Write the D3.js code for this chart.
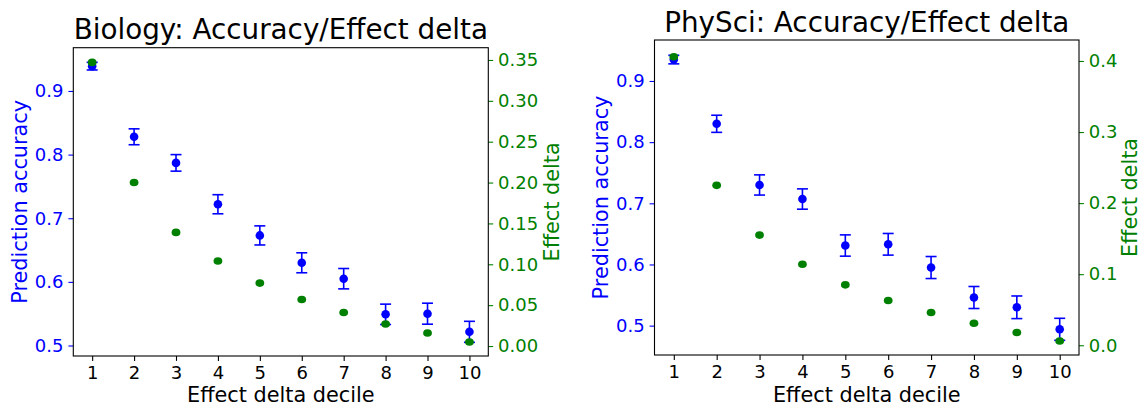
<!DOCTYPE html>
<html>
<head>
<meta charset="utf-8">
<script src="https://cdn.jsdelivr.net/npm/d3@7"></script>
<style>
  body { margin: 0; background: #fff; }
  svg { display: block; font-family: "DejaVu Sans", sans-serif; }
</style>
</head>
<body>
<div id="chart"></div>
<script>
// deciles on the x axis
var deciles = [1, 2, 3, 4, 5, 6, 7, 8, 9, 10];

// Biology panel
var bioAcc = [0.939, 0.828, 0.787, 0.722, 0.673, 0.630, 0.605, 0.549, 0.550, 0.5215];
var bioErr = [0.006, 0.0125, 0.013, 0.015, 0.015, 0.0157, 0.016, 0.016, 0.0165, 0.0165];
var bioEff = [0.347, 0.200, 0.139, 0.104, 0.077, 0.057, 0.041, 0.027, 0.016, 0.005];

// PhySci panel
var phyAcc = [0.935, 0.830, 0.730, 0.707, 0.631, 0.633, 0.595, 0.546, 0.530, 0.494];
var phyErr = [0.007, 0.014, 0.0165, 0.0166, 0.0174, 0.0177, 0.018, 0.018, 0.0185, 0.018];
var phyEff = [0.406, 0.225, 0.155, 0.114, 0.085, 0.063, 0.046, 0.031, 0.018, 0.006];

// tick values
var accTicks = [0.5, 0.6, 0.7, 0.8, 0.9];
var bioEffTicks = [0, 0.05, 0.1, 0.15, 0.2, 0.25, 0.3, 0.35];
var phyEffTicks = [0, 0.1, 0.2, 0.3, 0.4];

var W = 1141, H = 406;
var BLUE = "#0000ff", GREEN = "#008000";

var svg = d3.select("#chart").append("svg")
  .attr("width", W).attr("height", H);

function panel(opt) {
  var x = d3.scaleLinear().domain([0.55, 10.45]).range([opt.x0, opt.x1]);
  var yA = d3.scaleLinear().domain(opt.accDomain).range([opt.y1, opt.y0]);
  var yE = d3.scaleLinear().domain(opt.effDomain).range([opt.y1, opt.y0]);

  var g = svg.append("g");

  // axes
  var gx = g.append("g")
    .attr("transform", "translate(0," + opt.y1 + ")")
    .call(d3.axisBottom(x).tickValues(deciles).tickFormat(d3.format("d"))
      .tickSize(4.9).tickPadding(4.9));
  var gl = g.append("g")
    .attr("transform", "translate(" + opt.x0 + ",0)")
    .call(d3.axisLeft(yA).tickValues(accTicks).tickFormat(d3.format(".1f"))
      .tickSize(4.9).tickPadding(4.9));
  var gr = g.append("g")
    .attr("transform", "translate(" + opt.x1 + ",0)")
    .call(d3.axisRight(yE).tickValues(opt.effTicks).tickFormat(d3.format(opt.effFmt))
      .tickSize(4.9).tickPadding(4.9));

  [[gx, "#000"], [gl, BLUE], [gr, GREEN]].forEach(function (p) {
    p[0].select(".domain").remove();
    p[0].selectAll("line").attr("stroke", p[1]).attr("stroke-width", 1.1);
    p[0].selectAll("text").attr("fill", p[1])
      .style("font-size", "18px").style("font-family", "DejaVu Sans");
  });

  // frame
  g.append("rect")
    .attr("x", opt.x0).attr("y", opt.y0)
    .attr("width", opt.x1 - opt.x0).attr("height", opt.y1 - opt.y0)
    .attr("fill", "none").attr("stroke", "#000").attr("stroke-width", 1.1);

  // accuracy error bars
  var acc = deciles.map(function (d, i) {
    return { d: d, v: opt.acc[i], e: opt.err[i] };
  });
  var eb = g.append("g").selectAll("g").data(acc).join("g");
  eb.append("line")
    .attr("x1", function (d) { return x(d.d); })
    .attr("x2", function (d) { return x(d.d); })
    .attr("y1", function (d) { return yA(d.v - d.e); })
    .attr("y2", function (d) { return yA(d.v + d.e); })
    .attr("stroke", BLUE).attr("stroke-width", 1.6);
  [-1, 1].forEach(function (s) {
    eb.append("line")
      .attr("x1", function (d) { return x(d.d) - 5.5; })
      .attr("x2", function (d) { return x(d.d) + 5.5; })
      .attr("y1", function (d) { return yA(d.v + s * d.e); })
      .attr("y2", function (d) { return yA(d.v + s * d.e); })
      .attr("stroke", BLUE).attr("stroke-width", 1.6);
  });
  eb.append("circle")
    .attr("cx", function (d) { return x(d.d); })
    .attr("cy", function (d) { return yA(d.v); })
    .attr("r", 4.3).attr("fill", BLUE);

  // effect delta dots (twin axis, drawn on top)
  g.append("g").selectAll("ellipse").data(opt.eff).join("ellipse")
    .attr("cx", function (d, i) { return x(deciles[i]); })
    .attr("cy", function (d) { return yE(d); })
    .attr("rx", 4.4).attr("ry", 3.8).attr("fill", GREEN);

  var cx = (opt.x0 + opt.x1) / 2, cy = (opt.y0 + opt.y1) / 2;

  // title and labels
  g.append("text")
    .attr("x", cx).attr("y", opt.y0 - 8.5)
    .attr("text-anchor", "middle")
    .style("font-size", "27.8px").attr("fill", "#000")
    .text(opt.title);
  g.append("text")
    .attr("x", cx).attr("y", 402)
    .attr("text-anchor", "middle")
    .style("font-size", "20.8px").attr("fill", "#000")
    .text("Effect delta decile");
  g.append("text")
    .attr("transform", "translate(" + (opt.leftLabelX) + "," + cy + ") rotate(-90)")
    .attr("text-anchor", "middle").attr("dy", "0.35em")
    .style("font-size", "20.8px").attr("fill", BLUE)
    .text("Prediction accuracy");
  g.append("text")
    .attr("transform", "translate(" + (opt.rightLabelX) + "," + cy + ") rotate(-90)")
    .attr("text-anchor", "middle").attr("dy", "0.35em")
    .style("font-size", "20.8px").attr("fill", GREEN)
    .text("Effect delta");
}

panel({
  title: "Biology: Accuracy/Effect delta",
  x0: 73.3, x1: 488.3, y0: 47.7, y1: 356,
  accDomain: [0.4835, 0.968], effDomain: [-0.0122, 0.365],
  acc: bioAcc, err: bioErr, eff: bioEff,
  effTicks: bioEffTicks, effFmt: ".2f",
  leftLabelX: 20, rightLabelX: 552
});

panel({
  title: "PhySci: Accuracy/Effect delta",
  x0: 654.5, x1: 1079, y0: 40, y1: 355,
  accDomain: [0.452, 0.967], effDomain: [-0.0137, 0.4295],
  acc: phyAcc, err: phyErr, eff: phyEff,
  effTicks: phyEffTicks, effFmt: ".1f",
  leftLabelX: 601, rightLabelX: 1130
});
</script>
</body>
</html>
